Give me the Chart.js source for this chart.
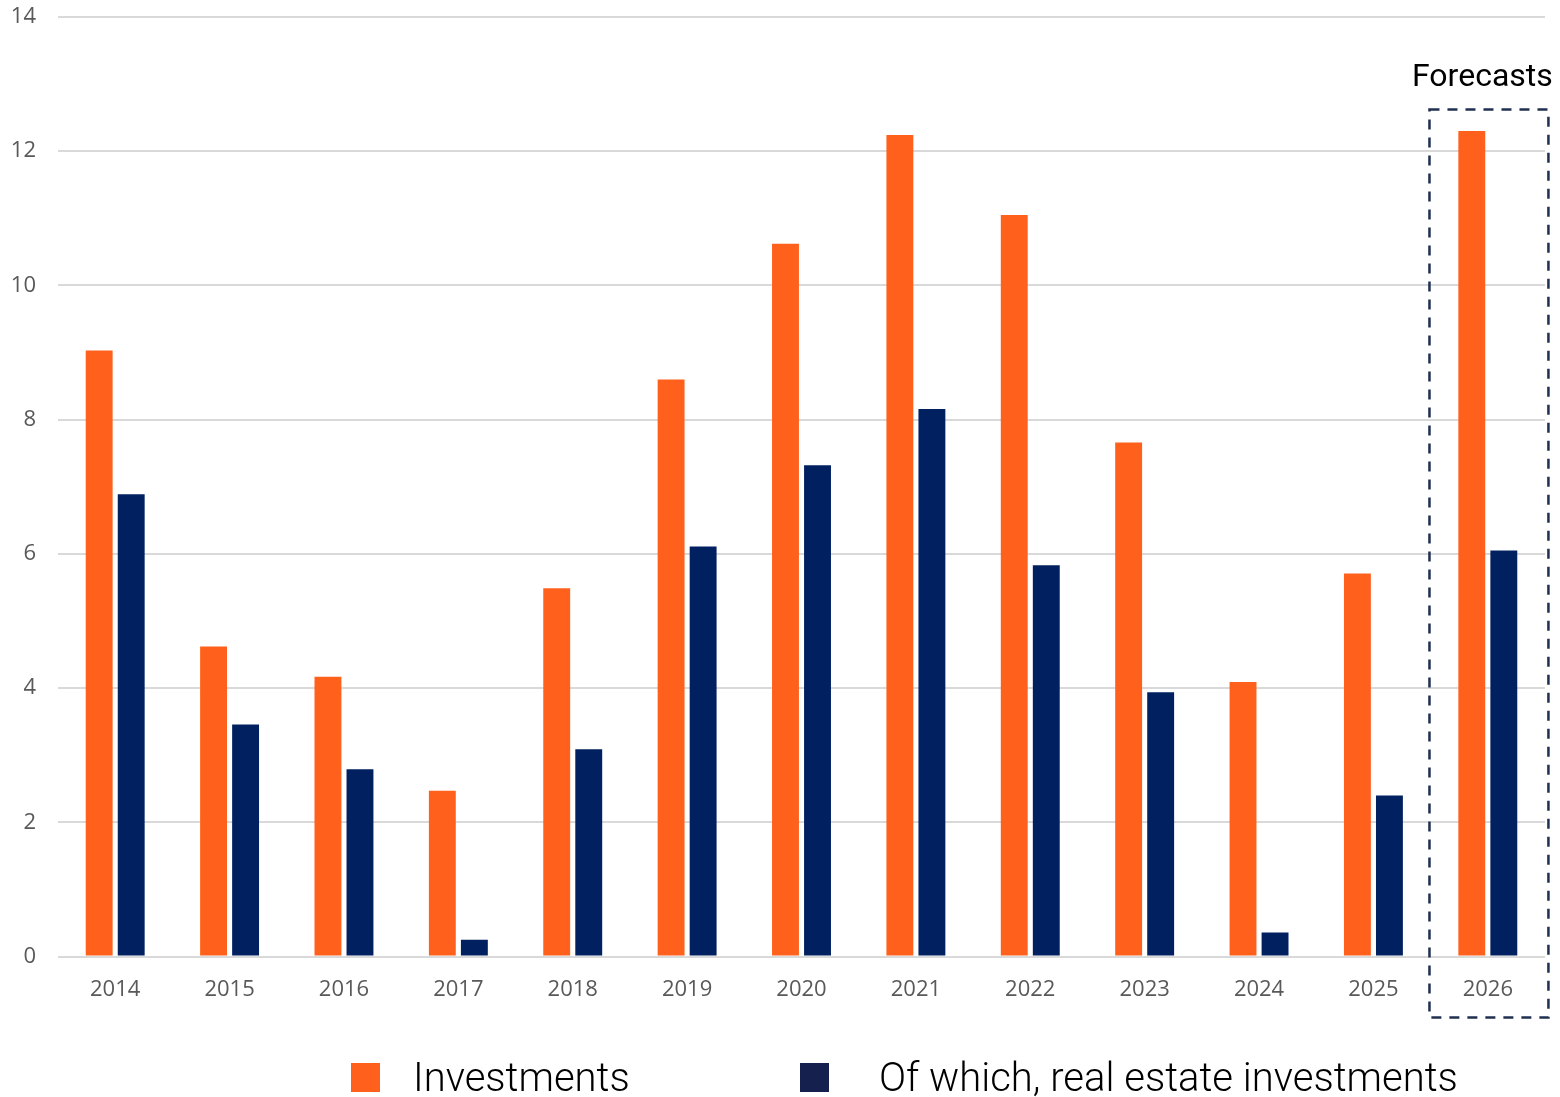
<!DOCTYPE html>
<html>
<head>
<meta charset="utf-8">
<script src="https://cdn.jsdelivr.net/npm/chart.js@4"></script>
<style>
  body { margin: 0; background: #fff; }
  #wrap { position: relative; width: 1560px; height: 1097px; }
  #legend { position: absolute; left: 0; top: 1050px; width: 1560px; height: 47px; font-family: Roboto, sans-serif; font-weight: 300; font-size: 40px; color: #000; }
  .item { position: absolute; top: 0; display: flex; align-items: center; height: 54px; }
  .swatch { width: 29px; height: 29px; }
  #forecast { position: absolute; font-family: Roboto, sans-serif; font-size: 32px; color: #000; }
</style>
</head>
<body>
<div id="wrap">
  <canvas id="chart" width="1560" height="1097"></canvas>
  <div id="forecast" style="left:1412px; top:56px;">Forecasts</div>
  <div id="legend"></div>
</div>
<script>
// Data
const years = ['2014', '2015', '2016', '2017', '2018', '2019', '2020', '2021', '2022', '2023', '2024', '2025', '2026'];
const investments = [9.03, 4.62, 4.17, 2.47, 5.49, 8.60, 10.62, 12.24, 11.05, 7.66, 4.09, 5.71, 12.30];
const realEstate = [6.89, 3.46, 2.79, 0.25, 3.09, 6.11, 7.32, 8.16, 5.83, 3.94, 0.36, 2.40, 6.05];
const seriesNames = ['Investments', 'Of which, real estate investments'];
const forecastYear = '2026';

const orange = '#FF611C';
const navy = '#002060';

// Dashed frame round the forecast year
const forecastBox = {
    id: 'forecastBox',
    afterDraw(chart) {
        const x = chart.scales.x, y = chart.scales.y;
        const idx = years.indexOf(forecastYear);
        const step = x.getPixelForValue(1) - x.getPixelForValue(0);
        const cx = x.getPixelForValue(idx);
        const top = y.getPixelForValue(12.62);
        const c = chart.ctx;
        c.save();
        c.strokeStyle = '#1F3050';
        c.lineWidth = 2.5;
        c.setLineDash([10, 8]);
        c.strokeRect(cx - 0.51 * step, top, step * 1.04, y.getPixelForValue(0) + 61 - top);
        c.restore();
    }
};

const ctx = document.getElementById('chart').getContext('2d');
const chart = new Chart(ctx, {
    type: 'bar',
    data: {
        labels: years,
        datasets: [{
            label: seriesNames[0],
            data: investments,
            backgroundColor: orange,
            barPercentage: 0.84,
            categoryPercentage: 0.56
        }, {
            label: seriesNames[1],
            data: realEstate,
            backgroundColor: navy,
            barPercentage: 0.84,
            categoryPercentage: 0.56
        }]
    },
    options: {
        responsive: false,
        animation: false,
        layout: { padding: { left: 10, right: 15, top: 17, bottom: 74 } },
        plugins: {
            legend: { display: false },
            tooltip: { enabled: false }
        },
        scales: {
            y: {
                min: 0,
                max: 14,
                afterFit: s => { s.width = 48; s.paddingTop = 0; s.paddingBottom = 0; },
                ticks: {
                    stepSize: 2,
                    padding: 22,
                    color: '#595959',
                    font: { family: 'Open Sans', size: 22 }
                },
                grid: { color: '#D9D9D9', lineWidth: 2, drawTicks: false },
                border: { display: false }
            },
            x: {
                ticks: {
                    padding: 20,
                    color: '#595959',
                    font: { family: 'Open Sans', size: 22 }
                },
                grid: { display: false, drawTicks: false },
                border: { display: false }
            }
        }
    },
    plugins: [forecastBox]
});

// Legend
const legend = document.getElementById('legend');
const legendPos = [351, 800];
const legendGap = [33, 50];
[orange, '#15204F'].forEach((c, i) => {
    const item = document.createElement('div');
    item.className = 'item';
    item.style.left = legendPos[i] + 'px';
    item.innerHTML = '<div class="swatch" style="background:' + c + ';margin-right:' + legendGap[i] + 'px"></div><span>' + seriesNames[i] + '</span>';
    legend.appendChild(item);
});
</script>
</body>
</html>
